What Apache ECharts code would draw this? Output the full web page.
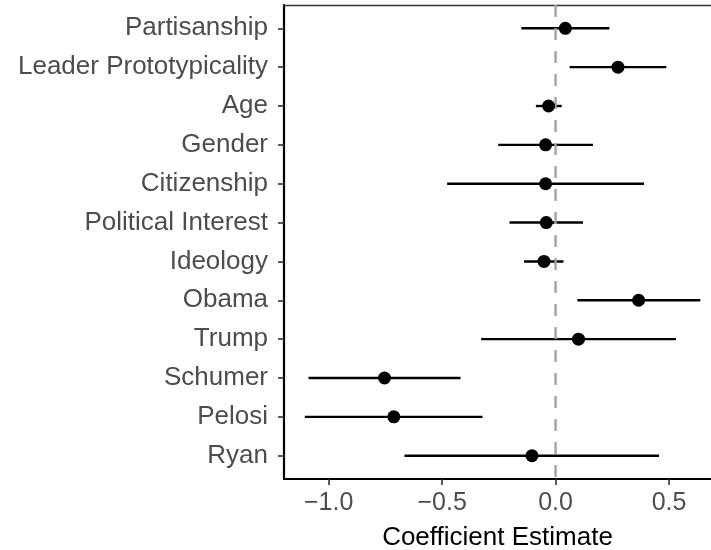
<!DOCTYPE html>
<html>
<head>
<meta charset="utf-8">
<script src="https://cdn.jsdelivr.net/npm/echarts@6/dist/echarts.min.js"></script>
<style>
  html, body { margin: 0; padding: 0; background: #ffffff; }
  #chart { width: 711px; height: 550px; }
</style>
</head>
<body>
<div id="chart"></div>
<script>
// Predictors, top to bottom
const categories = ['Partisanship', 'Leader Prototypicality', 'Age', 'Gender', 'Citizenship',
  'Political Interest', 'Ideology', 'Obama', 'Trump', 'Schumer', 'Pelosi', 'Ryan'];
// Point estimates and confidence bounds
const estimate = [0.043, 0.275, -0.031, -0.044, -0.044, -0.041, -0.051, 0.366, 0.101, -0.754, -0.713, -0.104];
const lower = [-0.151, 0.062, -0.087, -0.253, -0.478, -0.203, -0.139, 0.096, -0.328, -1.089, -1.105, -0.666];
const upper = [0.237, 0.488, 0.027, 0.165, 0.390, 0.121, 0.035, 0.638, 0.531, -0.419, -0.322, 0.456];
// x-axis ticks
const xTicks = [-1.0, -0.5, 0.0, 0.5];

const FONT = '"Liberation Sans", Arial, sans-serif';
const rowIdx = categories.map((_, i) => i + 1);

const intervals = categories.map((c, i) => [lower[i], upper[i], i + 1]);
const points = categories.map((c, i) => [estimate[i], i + 1]);

const fmtX = v => {
  const s = Math.abs(v).toFixed(1);
  return v < 0 ? '\u2212' + s : s;
};

const chart = echarts.init(document.getElementById('chart'), null, { renderer: 'canvas' });
chart.setOption({
  animation: false,
  backgroundColor: '#ffffff',
  grid: { left: 284, right: 0, top: 5, bottom: 71, containLabel: false, outerBoundsMode: 'none' },
  xAxis: [{
    type: 'value',
    min: -1.197,
    max: 0.685,
    name: 'Coefficient Estimate',
    nameLocation: 'middle',
    nameGap: 46,
    nameTextStyle: { color: '#000000', fontSize: 26, fontFamily: FONT },
    axisLine: { show: true, onZero: false, lineStyle: { color: '#000000', width: 2.2 } },
    axisTick: { show: true, customValues: xTicks, length: 6, lineStyle: { color: '#333333', width: 1.6 } },
    axisLabel: {
      customValues: xTicks, formatter: fmtX, margin: 12,
      color: '#4D4D4D', fontSize: 25, fontFamily: FONT
    },
    splitLine: { show: false }
  }, {
    type: 'value',
    position: 'top',
    min: -1.197,
    max: 0.685,
    axisLine: { show: true, onZero: false, lineStyle: { color: '#333333', width: 1.4 } },
    axisTick: { show: false },
    axisLabel: { show: false },
    splitLine: { show: false }
  }],
  yAxis: {
    type: 'value',
    inverse: true,
    min: 0.4,
    max: 12.6,
    axisLine: { show: true, onZero: false, lineStyle: { color: '#000000', width: 2.2 } },
    axisTick: { show: true, customValues: rowIdx, length: 6, lineStyle: { color: '#333333', width: 1.6 } },
    axisLabel: {
      customValues: rowIdx,
      formatter: v => categories[Math.round(v) - 1] || '',
      margin: 16,
      color: '#4D4D4D', fontSize: 26, fontFamily: FONT
    },
    splitLine: { show: false }
  },
  series: [{
    type: 'custom',
    name: 'interval',
    xAxisIndex: 0,
    data: intervals,
    z: 2,
    renderItem: (params, api) => {
      const a = api.coord([api.value(0), api.value(2)]);
      const b = api.coord([api.value(1), api.value(2)]);
      return {
        type: 'line',
        shape: { x1: a[0], y1: a[1], x2: b[0], y2: b[1] },
        style: { stroke: '#000000', lineWidth: 2.4 }
      };
    }
  }, {
    type: 'line',
    name: 'zero',
    xAxisIndex: 0,
    data: [[0, 0.4], [0, 12.6]],
    symbol: 'none',
    z: 3,
    lineStyle: { color: '#A3A3A3', width: 2.4, type: [12, 11] }
  }, {
    type: 'scatter',
    name: 'estimate',
    xAxisIndex: 0,
    data: points,
    symbol: 'circle',
    symbolSize: 13,
    z: 4,
    itemStyle: { color: '#000000', opacity: 1 }
  }]
});
</script>
</body>
</html>
